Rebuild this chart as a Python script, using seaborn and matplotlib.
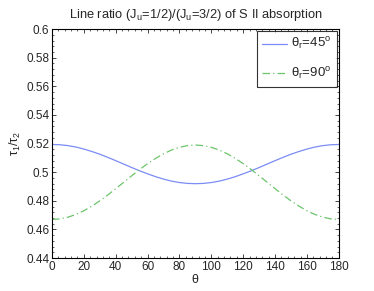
import pandas as pd
import matplotlib
matplotlib.use('Agg')
import matplotlib.pyplot as plt
import seaborn as sns
from matplotlib.ticker import MultipleLocator

theta = [0, 5, 10, 15, 20, 25, 30, 35, 40, 45, 50, 55, 60, 65, 70, 75, 80, 85, 90,
         95, 100, 105, 110, 115, 120, 125, 130, 135, 140, 145, 150, 155, 160, 165, 170, 175, 180]
ratio_45 = [0.5194, 0.5192, 0.5186, 0.5176, 0.5162, 0.5145, 0.5126, 0.5104, 0.5081, 0.5057,
            0.5033, 0.5010, 0.4989, 0.4969, 0.4952, 0.4938, 0.4928, 0.4922, 0.4920,
            0.4922, 0.4928, 0.4938, 0.4952, 0.4969, 0.4989, 0.5010, 0.5033, 0.5057,
            0.5081, 0.5104, 0.5126, 0.5145, 0.5162, 0.5176, 0.5186, 0.5192, 0.5194]
ratio_90 = [0.4670, 0.4674, 0.4686, 0.4705, 0.4731, 0.4763, 0.4800, 0.4841, 0.4885, 0.4930,
            0.4975, 0.5019, 0.5060, 0.5097, 0.5129, 0.5155, 0.5174, 0.5186, 0.5190,
            0.5186, 0.5174, 0.5155, 0.5129, 0.5097, 0.5060, 0.5019, 0.4975, 0.4930,
            0.4885, 0.4841, 0.4800, 0.4763, 0.4731, 0.4705, 0.4686, 0.4674, 0.4670]
ytick_vals = [0.44, 0.46, 0.48, 0.5, 0.52, 0.54, 0.56, 0.58, 0.6]
ytick_labels = ['0.44', '0.46', '0.48', '0.5', '0.52', '0.54', '0.56', '0.58', '0.6']

sns.set_style('ticks')
plt.rcParams['font.family'] = ['Liberation Sans', 'DejaVu Sans']
plt.rcParams['mathtext.fontset'] = 'custom'
plt.rcParams['mathtext.rm'] = 'Liberation Sans'
plt.rcParams['mathtext.it'] = 'Liberation Sans'

df = pd.DataFrame({'theta': theta, 'r45': ratio_45, 'r90': ratio_90})

fig = plt.figure(figsize=(3.74, 2.91), dpi=100)
ax = fig.add_axes([0.139, 0.113, 0.767, 0.787])

sns.lineplot(data=df, x='theta', y='r45', ax=ax, color='#7b8cf5', lw=0.9,
             label=r'$\mathrm{\theta_r}$=45$\mathrm{^o}$')
sns.lineplot(data=df, x='theta', y='r90', ax=ax, color='#6cc46c', lw=0.9,
             linestyle=(0, (6, 2.5, 1, 2.5)), label=r'$\mathrm{\theta_r}$=90$\mathrm{^o}$')

ax.set_xlim(0, 180)
ax.set_ylim(0.44, 0.6)
ax.xaxis.set_major_locator(MultipleLocator(20))
ax.xaxis.set_minor_locator(MultipleLocator(4))
ax.set_yticks(ytick_vals)
ax.set_yticklabels(ytick_labels)
ax.yaxis.set_minor_locator(MultipleLocator(0.004))
ax.tick_params(which='both', direction='in', top=True, right=True, labelsize=8.5, pad=2)
ax.tick_params(which='major', length=3, width=0.6)
ax.tick_params(which='minor', length=1.5, width=0.5)
for s in ax.spines.values():
    s.set_linewidth(0.8)
    s.set_color('black')

ax.set_xlabel(r'$\mathrm{\theta}$', fontsize=9, labelpad=0)
ax.set_ylabel(r'$\mathrm{\tau_1/\tau_2}$', fontsize=9, labelpad=2)
ax.set_title(r'Line ratio (J$\mathrm{_u}$=1/2)/(J$\mathrm{_u}$=3/2) of S II absorption',
             fontsize=9.3, pad=8)

leg = ax.legend(loc='upper right', fontsize=9.5, frameon=True, fancybox=False,
                edgecolor='black', handlelength=1.9, labelspacing=1.0,
                borderaxespad=0.15, borderpad=0.4, handletextpad=0.3)
leg.get_frame().set_linewidth(0.8)

fig.savefig('out.png', dpi=100)
